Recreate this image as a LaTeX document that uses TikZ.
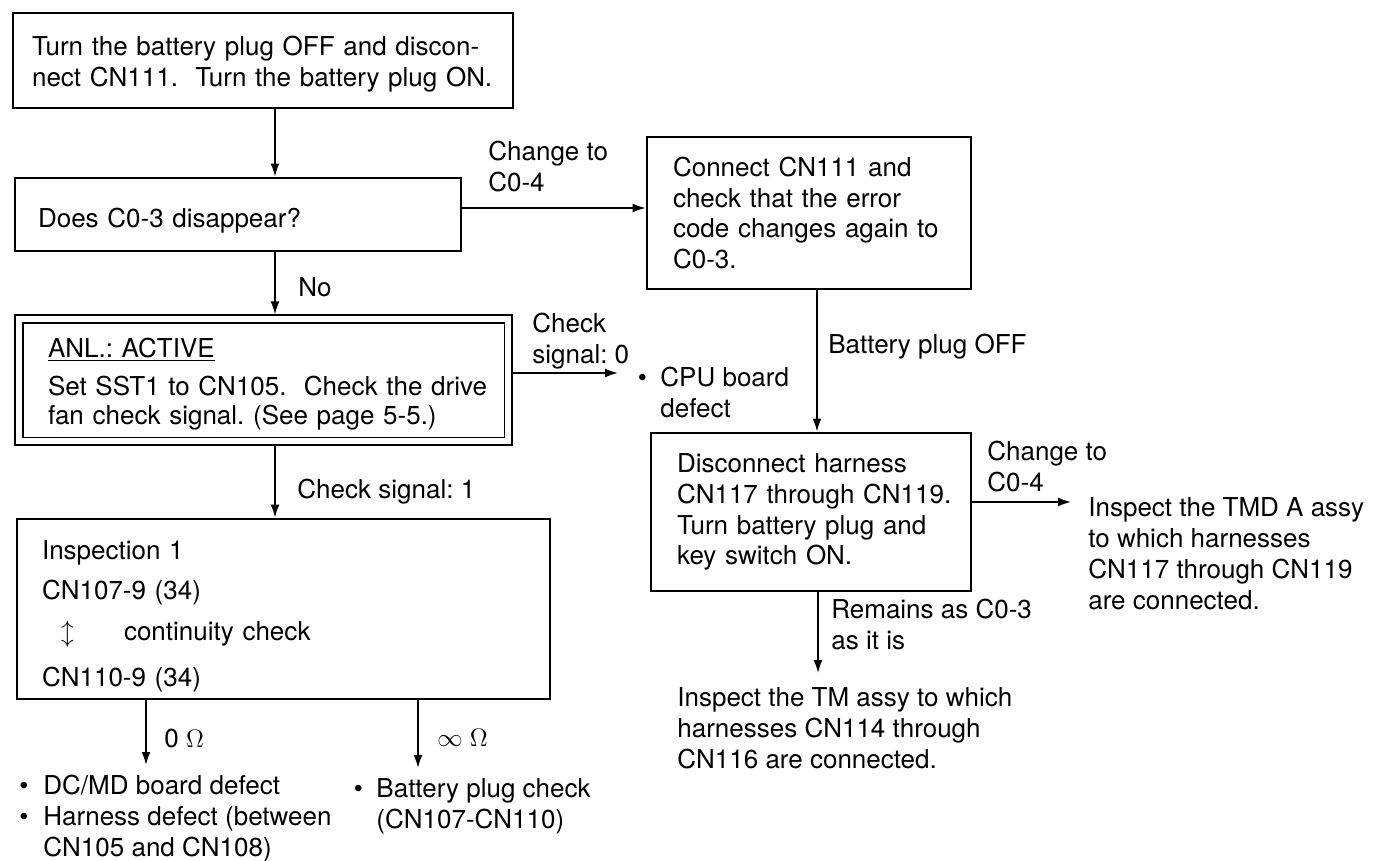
\documentclass[tikz,border=0pt]{standalone}
\usepackage{fontspec}
\setmainfont{TeX Gyre Heros}
\usetikzlibrary{arrows.meta}
\frenchspacing
\newcommand{\flowfont}{\fontsize{14.8pt}{17.5pt}\selectfont}
\tikzset{
  box/.style={draw, line width=1.6pt, align=left, inner ysep=0pt, font=\flowfont},
  dblbox/.style={box, line width=0.9pt, double, double distance=0.12cm, outer sep=2.6pt},
  lbl/.style={inner sep=0pt, anchor=north west, align=left, font=\flowfont},
  arr/.style={-{Latex[length=2.6mm, width=1.8mm]}, line width=1pt},
}

\begin{document}
\begin{tikzpicture}[x=0.02cm, y=-0.02cm]
  \useasboundingbox (0,0) rectangle (1377,861);
  \node[box, text width=9.24cm, inner xsep=0.38cm, minimum height=1.9cm] (start) at (263,60.5)
    {\rule{0pt}{0.54cm}\mbox{Turn the battery plug OFF and discon-}\\\mbox{nect CN111.\ \ Turn the battery plug ON.}};
  \node[box, text width=8.0cm, inner xsep=0.46cm, minimum height=1.46cm] (ask) at (238,214.5)
    {\rule{0pt}{0.62cm}Does C0-3 disappear?};
  \node[box, text width=5.44cm, inner xsep=0.52cm, minimum height=3.04cm] (conn) at (809,213)
    {\mbox{Connect CN111 and}\\\mbox{check that the error}\\\mbox{code changes again to}\\C0-3.};
  \node[dblbox, text width=8.63cm, inner xsep=0.58cm, minimum height=2.45cm] (anl) at (263.75,380.25)
    {\rule{0pt}{0.54cm}\underline{ANL.: ACTIVE}\\[0.14cm]\mbox{Set SST1 to CN105.\ \ Check the drive}\\[-0.04cm]\mbox{fan check signal. (See page 5-5.)}};
  \node[box, text width=5.36cm, inner xsep=0.52cm, minimum height=3.16cm] (disc) at (811,512)
    {\mbox{Disconnect harness}\\\mbox{CN117 through CN119.}\\\mbox{Turn battery plug and}\\\mbox{key switch ON.}};
  \node[box, text width=9.66cm, inner xsep=0.5cm, minimum height=3.6cm] (insp) at (283.5,609)
    {\rule{0pt}{0.66cm}Inspection 1\\[0.2cm]CN107-9 (34)\\[0.2cm]\makebox[1.64cm][l]{\hspace{0.38cm}$\updownarrow$}continuity check\\[0.3cm]CN110-9 (34)};

  \node[lbl] (chg1) at (488,140.5) {Change to\\C0-4};
  \node[lbl] (no) at (298,277.5) {No};
  \node[lbl] (chk0) at (532,312.5) {Check\\signal: 0};
  \node[lbl] (cpu) at (637.5,365) {\begin{tabular}{@{}l@{\hspace{0.27cm}}l@{}}\textbullet & CPU board\\ & defect\end{tabular}};
  \node[lbl] (bpo) at (828,333.5) {Battery plug OFF};
  \node[lbl] (chk1) at (297,478.5) {Check signal: 1};
  \node[lbl] (chg2) at (987,440.5) {Change to\\C0-4};
  \node[lbl] (tmd) at (1088,497.5) {Inspect the TMD A assy\\to which harnesses\\CN117 through CN119\\are connected.};
  \node[lbl] (rem) at (831,598.5) {Remains as C0-3\\as it is};
  \node[lbl] (tm) at (677,687.5) {Inspect the TM assy to which\\harnesses CN114 through\\CN116 are connected.};
  \node[lbl] (ohm0) at (164,728.5) {0 $\Omega$};
  \node[lbl] (ohminf) at (437,728.5) {$\infty$ $\Omega$};
  \node[lbl] (dcmd) at (19,773) {\begin{tabular}{@{}l@{\hspace{0.3cm}}l@{}}\textbullet & DC/MD board defect\\\textbullet & Harness defect (between\\ & CN105 and CN108)\end{tabular}};
  \node[lbl] (batt) at (353.5,776) {\begin{tabular}{@{}l@{\hspace{0.27cm}}l@{}}\textbullet & Battery plug check\\ & (CN107-CN110)\end{tabular}};

  \draw[arr] (start.south -| 275,0) -- (ask.north -| 275,0);
  \draw[arr] (ask.east |- 0,208) -- (conn.west |- 0,208);
  \draw[arr] (ask.south -| 275,0) -- (anl.north -| 275,0);
  \draw[arr, shorten >=0.39cm] (anl.east |- 0,373) -- (cpu.west |- 0,373);
  \draw[arr] (anl.south -| 275,0) -- (insp.north -| 275,0);
  \draw[arr] (conn.south -| 817,0) -- (disc.north -| 817,0);
  \draw[arr, shorten >=0.34cm] (disc.east |- 0,502) -- (tmd.west |- 0,502);
  \draw[arr, shorten >=0.29cm] (disc.south -| 818,0) -- (tm.north -| 818,0);
  \draw[arr, shorten >=0.16cm] (insp.south -| 146,0) -- (dcmd.north -| 146,0);
  \draw[arr, shorten >=0.16cm] (insp.south -| 418,0) -- (batt.north -| 418,0);
\end{tikzpicture}
\end{document}
